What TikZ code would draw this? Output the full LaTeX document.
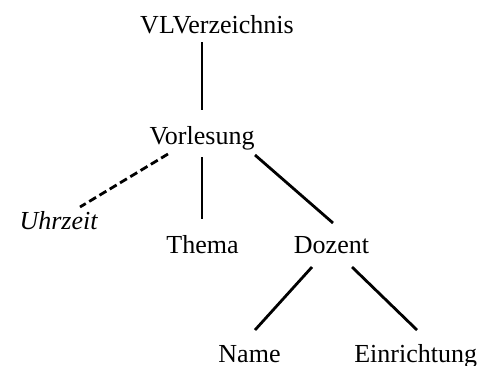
\documentclass[tikz,border=0pt]{standalone}
\usepackage{fontspec}
\setmainfont{Liberation Serif}
\usetikzlibrary{calc}
\tikzset{
  lbl/.style={anchor=base, inner sep=0pt, font=\fontsize{26}{31}\selectfont},
  edge/.style={line width=2.8pt},
  optedge/.style={line width=2.8pt, dash pattern=on 8pt off 4pt}
}
\begin{document}
\begin{tikzpicture}[x=1pt,y=-1pt]
\useasboundingbox (0,0) rectangle (494,365);
\node[lbl] (vl) at (217,33) {VLVerzeichnis};
\node[lbl] (vor) at (202,144) {Vorlesung};
\node[lbl] (uhr) at (58.5,229) {\itshape Uhrzeit};
\node[lbl] (thema) at (202.5,253) {Thema};
\node[lbl] (doz) at (331.5,253) {Dozent};
\node[lbl] (name) at (249.5,362) {Name};
\node[lbl] (ein) at (415.7,362) {Einrichtung};
\draw[edge] ($(vl.base)+(-15,9)$) -- ($(vor.base)+(0,-34)$);
\draw[optedge] ($(vor.base)+(-34,10)$) -- ($(uhr.base)+(21.5,-22)$);
\draw[edge] ($(vor.base)+(0,13)$) -- ($(thema.base)+(-0.5,-34)$);
\draw[edge] ($(vor.base)+(53,11)$) -- ($(doz.base)+(1.5,-30)$);
\draw[edge] ($(doz.base)+(-19.5,14)$) -- ($(name.base)+(5.5,-32)$);
\draw[edge] ($(doz.base)+(20.5,14)$) -- ($(ein.base)+(1.3,-32)$);
\end{tikzpicture}
\end{document}
